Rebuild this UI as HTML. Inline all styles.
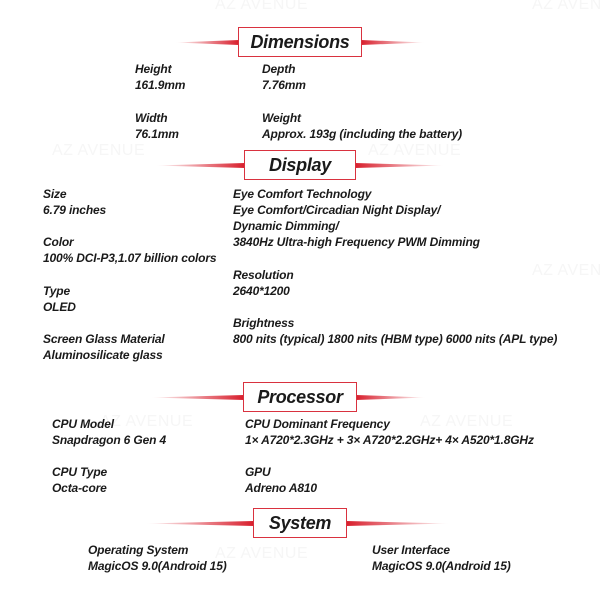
<!DOCTYPE html>
<html><head><meta charset="utf-8"><style>
body{margin:0;width:600px;height:600px;background:#fff;position:relative;overflow:hidden;font-family:"Liberation Sans",sans-serif}
.t{position:absolute;font-weight:bold;font-style:italic;font-size:12px;line-height:16px;color:#1a1a1a;white-space:nowrap;letter-spacing:-0.15px}
.w{position:absolute;font-size:16px;color:#f6f6f6;white-space:nowrap;letter-spacing:0.5px}
.box{position:absolute;height:28px;border:1px solid #d9323f;background:#fff;text-align:center;font-weight:bold;font-style:italic;font-size:18px;line-height:28px;color:#1a1a1a;letter-spacing:-0.3px}
.ln{position:absolute;height:5px;margin-top:-2px}
.l{background:linear-gradient(to right,rgba(220,20,40,0),#d81e2c);clip-path:polygon(0 50%,100% 0,100% 100%)}
.r{background:linear-gradient(to left,rgba(220,20,40,0),#d81e2c);clip-path:polygon(0 0,100% 50%,0 100%)}
</style></head><body>
<div class="w" style="left:215px;top:-4px">AZ AVENUE</div>
<div class="w" style="left:532px;top:-4px">AZ AVENUE</div>
<div class="w" style="left:52px;top:142px">AZ AVENUE</div>
<div class="w" style="left:368px;top:142px">AZ AVENUE</div>
<div class="w" style="left:532px;top:262px">AZ AVENUE</div>
<div class="w" style="left:100px;top:413px">AZ AVENUE</div>
<div class="w" style="left:420px;top:413px">AZ AVENUE</div>
<div class="w" style="left:215px;top:545px">AZ AVENUE</div>

<div class="ln l" style="left:175px;top:42px;width:64px"></div>
<div class="ln r" style="left:361px;top:42px;width:64px"></div>
<div class="box" style="left:238px;top:27px;width:122px">Dimensions</div>

<div class="t" style="left:135px;top:61px">Height<br>161.9mm</div>
<div class="t" style="left:262px;top:61px">Depth<br>7.76mm</div>
<div class="t" style="left:135px;top:110px">Width<br>76.1mm</div>
<div class="t" style="left:262px;top:110px">Weight<br>Approx. 193g (including the battery)</div>

<div class="ln l" style="left:155px;top:165px;width:90px"></div>
<div class="ln r" style="left:355px;top:165px;width:90px"></div>
<div class="box" style="left:244px;top:150px;width:110px">Display</div>

<div class="t" style="left:43px;top:186px">Size<br>6.79 inches</div>
<div class="t" style="left:43px;top:234px">Color<br>100% DCI-P3,1.07 billion colors</div>
<div class="t" style="left:43px;top:283px">Type<br>OLED</div>
<div class="t" style="left:43px;top:331px">Screen Glass Material<br>Aluminosilicate glass</div>
<div class="t" style="left:233px;top:186px">Eye Comfort Technology<br>Eye Comfort/Circadian Night Display/<br>Dynamic Dimming/<br>3840Hz Ultra-high Frequency PWM Dimming</div>
<div class="t" style="left:233px;top:267px">Resolution<br>2640*1200</div>
<div class="t" style="left:233px;top:315px">Brightness<br>800 nits (typical) 1800 nits (HBM type) 6000 nits (APL type)</div>

<div class="ln l" style="left:150px;top:397px;width:94px"></div>
<div class="ln r" style="left:356px;top:397px;width:70px"></div>
<div class="box" style="left:243px;top:382px;width:112px">Processor</div>

<div class="t" style="left:52px;top:416px">CPU Model<br>Snapdragon 6 Gen 4</div>
<div class="t" style="left:245px;top:416px">CPU Dominant Frequency<br>1× A720*2.3GHz + 3× A720*2.2GHz+ 4× A520*1.8GHz</div>
<div class="t" style="left:52px;top:464px">CPU Type<br>Octa-core</div>
<div class="t" style="left:245px;top:464px">GPU<br>Adreno A810</div>

<div class="ln l" style="left:145px;top:523px;width:109px"></div>
<div class="ln r" style="left:346px;top:523px;width:104px"></div>
<div class="box" style="left:253px;top:508px;width:92px">System</div>

<div class="t" style="left:88px;top:542px">Operating System<br>MagicOS 9.0(Android 15)</div>
<div class="t" style="left:372px;top:542px">User Interface<br>MagicOS 9.0(Android 15)</div>
</body></html>
